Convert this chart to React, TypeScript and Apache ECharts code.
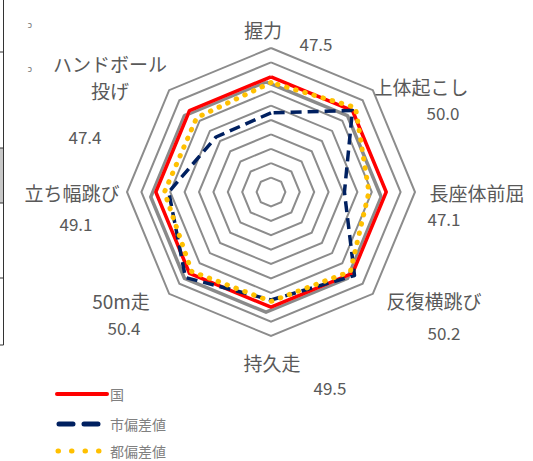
import React, { useEffect, useRef } from "react";
import * as echarts from "echarts";

// Indicators in ECharts (counter-clockwise) order, starting at the top
const indicatorNames = [
  "握力",
  "ハンドボール\n投げ",
  "立ち幅跳び",
  "50m走",
  "持久走",
  "反復横跳び",
  "長座体前屈",
  "上体起こし",
];
const axisMin = 42;
const axisMax = 52;
const nationalValues = [50, 50, 50, 50, 50, 50, 50, 50];
const cityValues = [47.5, 47.4, 49.1, 50.4, 49.5, 50.2, 47.1, 50.0];
const prefValues = [49.6, 49.3, 49.4, 49.8, 49.6, 49.8, 48.8, 50.3];
const seriesNames = ["国", "市偏差値", "都偏差値"];

// label placement (layout only)
const nameLayout: [number, number][] = [
  [263, 29],
  [110, 77],
  [72, 192],
  [121, 300],
  [272, 362],
  [434, 300],
  [477, 192],
  [421, 86],
];
const valueLayout: [number, number][] = [
  [316, 43],
  [85, 136],
  [76, 223],
  [124, 327],
  [330, 387],
  [444, 332],
  [444, 218],
  [443, 112],
];

const FONT = '"Noto Sans CJK JP", "Noto Sans", sans-serif';
const TEXT = "#595959";

export default function App() {
  const ref = useRef<HTMLDivElement>(null);
  useEffect(() => {
    document.body.style.margin = "0";
    const chart = echarts.init(ref.current!, undefined, { renderer: "svg" });

    const graphics: any[] = [];
    indicatorNames.forEach((n, i) => {
      graphics.push({
        type: "text",
        x: nameLayout[i][0],
        y: nameLayout[i][1],
        style: {
          text: n,
          fontSize: 19,
          fontFamily: FONT,
          fill: TEXT,
          align: "center",
          verticalAlign: "middle",
          lineHeight: 27,
        },
      });
      graphics.push({
        type: "text",
        x: valueLayout[i][0],
        y: valueLayout[i][1],
        style: {
          text: cityValues[i].toFixed(1),
          fontSize: 17,
          fontFamily: FONT,
          fill: TEXT,
          align: "center",
          verticalAlign: "middle",
        },
      });
    });

    // legend (drawn manually)
    const legendY = [394, 424, 451];
    graphics.push(
      {
        type: "line",
        shape: { x1: 57, y1: legendY[0], x2: 107, y2: legendY[0] },
        style: { stroke: "#ff0000", lineWidth: 4, lineCap: "round" },
      },
      {
        type: "line",
        shape: { x1: 59, y1: legendY[1], x2: 100, y2: legendY[1] },
        style: { stroke: "#002060", lineWidth: 5, lineCap: "round", lineDash: [14, 11] },
      },
      {
        type: "line",
        shape: { x1: 58, y1: legendY[2], x2: 99, y2: legendY[2] },
        style: { stroke: "#ffc000", lineWidth: 5, lineCap: "round", lineDash: [0.5, 13] },
      }
    );
    seriesNames.forEach((s, i) => {
      graphics.push({
        type: "text",
        x: 110,
        y: legendY[i],
        style: {
          text: s,
          fontSize: 14,
          fontFamily: FONT,
          fill: "#808080",
          align: "left",
          verticalAlign: "middle",
        },
      });
    });

    // cropped table border on the left edge
    graphics.push(
      { type: "rect", shape: { x: 0, y: 148, width: 3.5, height: 55 }, style: { fill: "#c8c8c8" } },
      { type: "line", shape: { x1: 3.5, y1: 0, x2: 3.5, y2: 345 }, style: { stroke: "#333", lineWidth: 1 } }
    );
    [52, 148, 203, 278, 345].forEach((y) => {
      graphics.push({
        type: "line",
        shape: { x1: 0, y1: y, x2: 3.5, y2: y },
        style: { stroke: "#333", lineWidth: 1 },
      });
    });
    [24, 68].forEach((y) => {
      graphics.push({
        type: "text",
        x: 30,
        y,
        style: { text: "ɔ", fontSize: 9, fontFamily: FONT, fill: "#777", align: "center", verticalAlign: "middle" },
      });
    });

    chart.setOption({
      animation: false,
      backgroundColor: "#ffffff",
      radar: {
        center: [271, 192],
        radius: 144,
        startAngle: 90,
        splitNumber: 10,
        shape: "polygon",
        indicator: indicatorNames.map((n) => ({ name: n, min: axisMin, max: axisMax })),
        axisName: { show: false },
        axisLine: { show: false },
        axisTick: { show: false },
        axisLabel: { show: false },
        splitArea: { show: false },
        splitLine: { lineStyle: { color: "#8c8c8c", width: 2 } },
      },
      series: [
        {
          type: "radar",
          symbol: "none",
          silent: true,
          data: [
            {
              name: seriesNames[0],
              value: nationalValues,
              lineStyle: {
                color: "#ff0000",
                width: 3.5,
                shadowColor: "rgba(100,100,100,0.75)",
                shadowBlur: 1,
                shadowOffsetX: -5,
                shadowOffsetY: 5,
              },
            },
            {
              name: seriesNames[1],
              value: cityValues,
              lineStyle: { color: "#002060", width: 3.5, type: [11, 6] },
            },
            {
              name: seriesNames[2],
              value: prefValues,
              lineStyle: { color: "#ffc000", width: 5, type: [0.5, 9], cap: "round" },
            },
          ],
        },
      ],
      graphic: graphics,
    });
    return () => chart.dispose();
  }, []);
  return (
    <div
      ref={ref}
      style={{ position: "absolute", left: 0, top: 0, width: 533, height: 461 }}
    />
  );
}
